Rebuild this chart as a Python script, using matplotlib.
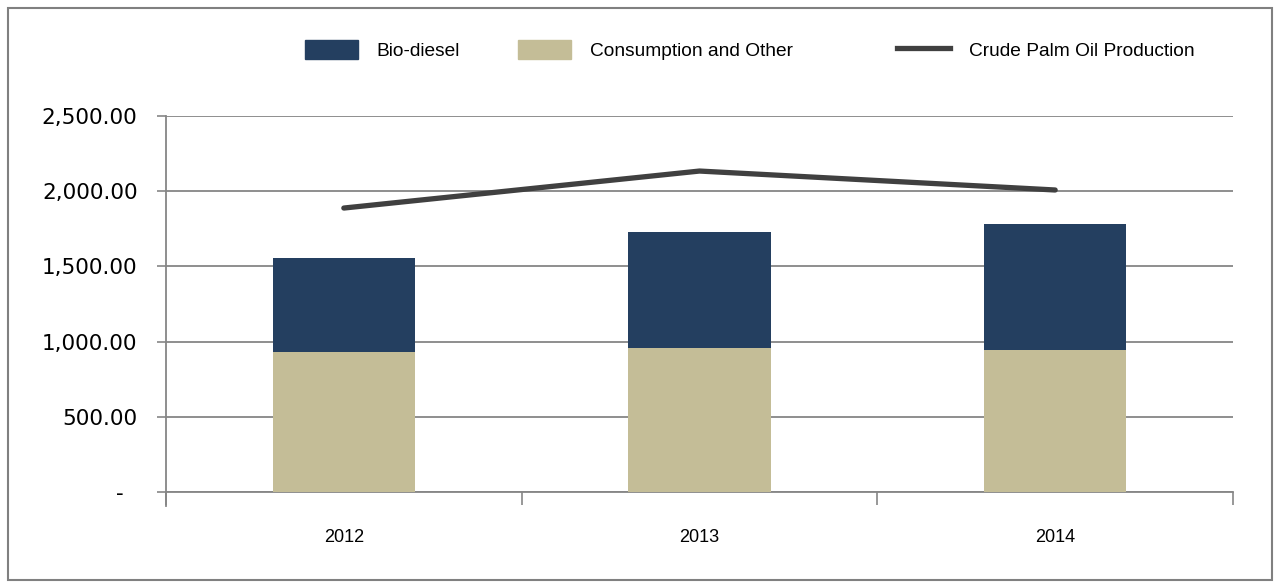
import matplotlib.pyplot as plt
from matplotlib.patches import Patch, Rectangle
from matplotlib.lines import Line2D
from matplotlib.ticker import FuncFormatter
import numpy as np

# data
years = ['2012', '2013', '2014']
consumption = [931, 957, 944]
biodiesel = [625, 772, 838]
cpo_production = [1888, 2134, 2008]

c_bio = '#243F60'
c_cons = '#C4BD97'
c_line = '#404040'
c_grid = '#868686'

fig = plt.figure(figsize=(12.79, 5.83), dpi=100)
ax = fig.add_axes([166 / 1279, 91 / 583, (1233 - 166) / 1279, 376 / 583])

x = np.arange(len(years))
ax.bar(x, consumption, width=0.4, color=c_cons, zorder=3)
ax.bar(x, biodiesel, width=0.4, bottom=consumption, color=c_bio, zorder=3)
ax.plot(x, cpo_production, color=c_line, lw=3.8, zorder=4, solid_capstyle='round')

ax.set_xlim(-0.5, 2.5)
ax.set_ylim(0, 2500)
ax.set_yticks(np.arange(0, 2501, 500))
ax.yaxis.set_major_formatter(FuncFormatter(lambda v, p: '-  ' if v == 0 else f'{v:,.2f}'))
ax.grid(axis='y', color=c_grid, lw=1.3, zorder=0)

# category labels at the centres, tick marks at the boundaries
ax.set_xticks(x)
ax.set_xticklabels(years, fontsize=13, family='Liberation Sans')
ax.set_xticks([-0.5, 0.5, 1.5, 2.5], minor=True)
ax.tick_params(axis='x', which='major', length=0, pad=27)
ax.tick_params(axis='x', which='minor', length=9.5, width=1.2, color=c_grid, direction='out')
ax.tick_params(axis='y', length=6.5, width=1.2, color=c_grid, labelsize=15.5, pad=14)

for s in ['top', 'right']:
    ax.spines[s].set_visible(False)
ax.spines['left'].set_color(c_grid)
ax.spines['left'].set_linewidth(1.3)
ax.spines['left'].set_bounds(-95, 2500)
ax.spines['bottom'].set_color(c_grid)
ax.spines['bottom'].set_linewidth(1.3)

# legend entries placed one by one, spacing in the original is uneven
handles = [Patch(color=c_bio), Patch(color=c_cons), Line2D([], [], color=c_line, lw=3.8)]
labels = ['Bio-diesel', 'Consumption and Other', 'Crude Palm Oil Production']
lx = [305, 518, 897]
for h, l, px in zip(handles, labels, lx):
    fig.legend([h], [l], loc='center left', bbox_to_anchor=(px / 1279, 1 - 50 / 583), frameon=False,
               prop={'family': 'Liberation Sans', 'size': 13.8}, handlelength=2.75, handleheight=1.1,
               handletextpad=1.0, borderpad=0, borderaxespad=0)

# outer border
fig.patches.append(Rectangle((8 / 1279, 3 / 583), 1264 / 1279, 572 / 583, transform=fig.transFigure,
                             fill=False, edgecolor='#808080', lw=1.5))

fig.savefig('out.png', dpi=100)
